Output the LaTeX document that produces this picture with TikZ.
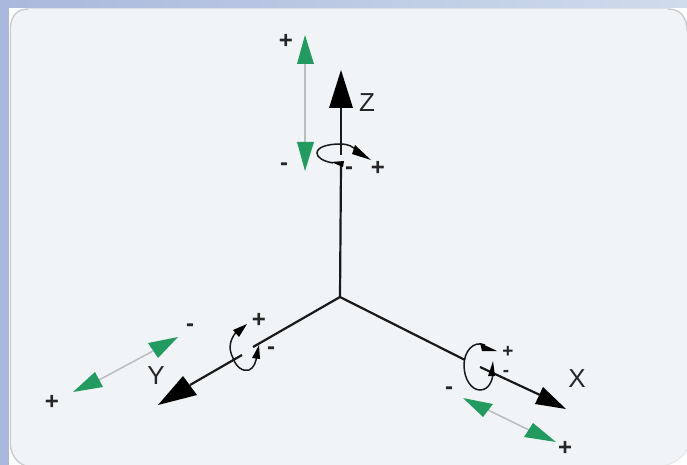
\documentclass[tikz,border=0pt]{standalone}
\usepackage{fontspec}
\setmainfont{Liberation Sans}
\usetikzlibrary{calc}
\definecolor{bandL}{HTML}{A9B8DC}
\definecolor{bandR}{HTML}{CFDCEC}
\definecolor{panel}{HTML}{F1F4F6}
\definecolor{rim}{HTML}{C9CDD0}
\definecolor{grn}{HTML}{239B60}
\definecolor{rail}{HTML}{B9BDBF}
\tikzset{
  axisline/.style={black!90,line width=2.2pt},
  ringline/.style={black!90,line width=1.5pt},
  railline/.style={rail,line width=1.5pt},
  bighead/.style={fill=black,draw=none},
  smallhead/.style={fill=black,draw=none},
  greenhead/.style={fill=grn,draw=none},
  sign/.style={font=\fontsize{24}{24}\bfseries\selectfont,inner sep=0pt,text=black!85},
  tightsign/.style={font=\fontsize{19}{19}\bfseries\selectfont,inner sep=0pt,text=black!85},
  axisname/.style={font=\fontsize{26}{26}\selectfont,inner sep=0pt,text=black!85},
}
\begin{document}
\begin{tikzpicture}[x=1pt,y=-1pt]
\useasboundingbox (0,0) rectangle (687,465);
% background bands
\fill[bandL] (0,0) rectangle (687,465);
\shade[left color=bandL,right color=bandR,shading angle=90] (0,0) rectangle (687,9);
% white sheet showing at the corners
\fill[white!97!panel] (9,8) rectangle (687,465);
% panel
\fill[panel] (687,30)
  .. controls (687,17) and (680,9) .. (668,9) -- (28,9)
  .. controls (17,9) and (11,16) .. (10.5,28) -- (10.5,445)
  .. controls (11,455) and (17,463) .. (26,466) -- (664,466)
  .. controls (674,463) and (683,458) .. (687,449) -- cycle;
% rim
\draw[rim,line width=1.4pt] (687,30) .. controls (687,17) and (680,9) .. (668,9);
\draw[rim!60,line width=1pt] (668,9) -- (28,9);
\draw[rim,line width=1.4pt] (28,9) .. controls (17,9) and (11,16) .. (10.5,28)
  -- (10.5,445) .. controls (11,455) and (17,463) .. (26,466);
\draw[rim!50,line width=1pt] (664,466) .. controls (674,463) and (683,458) .. (687,449);

% named points: axes
\coordinate (O) at (340,297);
\coordinate (zA) at (341,155);
\coordinate (zB) at (341,165);
\coordinate (zBase) at (341,106);
\coordinate (yA) at (253,347);
\coordinate (yB) at (242,355);
\coordinate (yBase) at (190,385);
\coordinate (xA) at (465,360);
\coordinate (xB) at (480,367);
\coordinate (xBase) at (540,395);

% axes
\draw[axisline] (O) -- (zB);
\draw[axisline] (zA) -- (zBase);
\draw[axisline] (O) -- (yA);
\draw[axisline] (yB) -- (yBase);
\draw[axisline] (O) -- (xA);
\draw[axisline] (xB) -- (xBase);

% big heads
\fill[bighead] (341,70) -- (353,108) -- (329,108) -- cycle;
\fill[bighead] (158,405) -- (183,376) -- (197,395) -- cycle;
\fill[bighead] (566,409) -- (543,387) -- (535,404) -- cycle;

% Z ring
\draw[ringline] (333,163) .. controls (322,161) and (317,157) .. (317,153)
  .. controls (317,147) and (328,144) .. (340,144)
  .. controls (348,144) and (353,146) .. (358,152);
\fill[smallhead] (331,162) -- (344,161) -- (343,167) -- cycle;
\fill[smallhead] (371,160) -- (355,145) -- (352,154) -- cycle;

% Y ring
\draw[ringline] (233,358) .. controls (229,350) and (229,343) .. (234,335)
  .. controls (236,331) and (240,329) .. (243,327);
\fill[smallhead] (247,324) -- (233,330) -- (239,337) -- cycle;
\draw[ringline] (233,358) .. controls (236,367) and (243,372) .. (249,370)
  .. controls (254,368) and (256,362) .. (257,355);
\fill[smallhead] (259,345) -- (252,358) -- (260,359) -- cycle;

% X ring
\draw[ringline] (485,345) .. controls (473,340) and (464,352) .. (464,365)
  .. controls (464,380) and (472,390) .. (480,390)
  .. controls (489,390) and (493,380) .. (493,372);
\fill[smallhead] (497,351) -- (480,343) -- (482,351) -- cycle;
\fill[smallhead] (493,361) -- (488,376) -- (495,376) -- cycle;

% green double arrows
\coordinate (gzA) at (305,62);
\coordinate (gzB) at (305,144);
\draw[railline] (gzA) -- (gzB);
\fill[greenhead] (305,35) -- (314,64) -- (297,64) -- cycle;
\fill[greenhead] (305,171) -- (314,142) -- (297,142) -- cycle;

\coordinate (gyA) at (153,351);
\coordinate (gyB) at (99,380);
\draw[railline] (gyA) -- (gyB);
\fill[greenhead] (178,337) -- (148,343) -- (158,358) -- cycle;
\fill[greenhead] (73,392) -- (95,372) -- (103,387) -- cycle;

\coordinate (gxA) at (488,410);
\coordinate (gxB) at (529,430);
\draw[railline] (gxA) -- (gxB);
\fill[greenhead] (463,398) -- (493,404) -- (483,417) -- cycle;
\fill[greenhead] (556,442) -- (533,423) -- (524,437) -- cycle;

% labels
\node[axisname] (lz) at (367,103) {Z};
\node[axisname] (ly) at (156,376) {Y};
\node[axisname] (lx) at (577,379) {X};
\node[sign] (s1) at (286,41) {+};
\node[sign] (s2) at (284,167) {-};
\node[sign] (s3) at (378,168) {+};
\node[sign] (s4) at (349,171) {-};
\node[sign] (s5) at (190,328) {-};
\node[sign] (s6) at (52,402) {+};
\node[sign] (s7) at (259,320) {+};
\node[sign] (s8) at (271,351) {-};
\node[tightsign] (s9) at (508,352) {+};
\node[tightsign] (s10) at (506,373) {-};
\node[sign] (s11) at (449,391) {-};
\node[sign] (s12) at (565,448) {+};
\end{tikzpicture}
\end{document}
